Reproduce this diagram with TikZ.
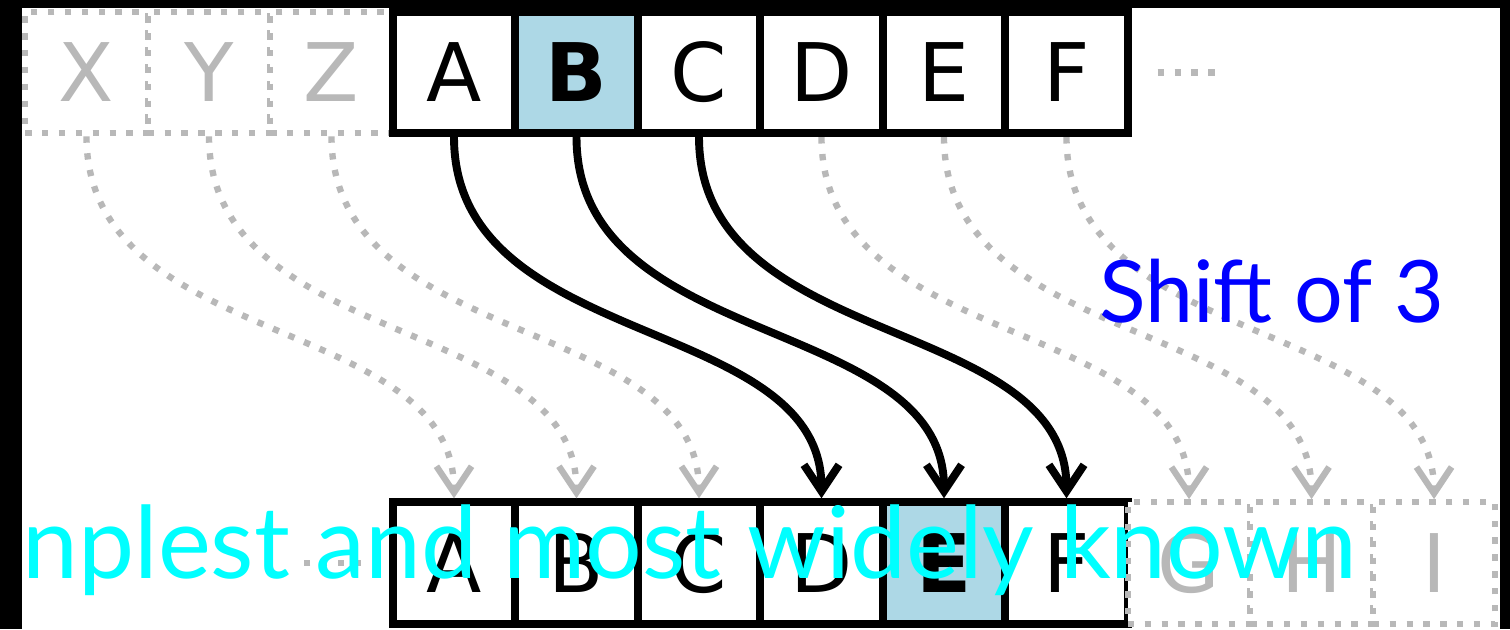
\documentclass[tikz,border=0pt]{standalone}
\usepackage{fontspec}
\usetikzlibrary{arrows.meta}
\newfontfamily\cellfont{DejaVu Sans}
\newfontfamily\notefont{Lato}
\definecolor{faint}{HTML}{B8B8B8}
\definecolor{cellblue}{HTML}{ADD8E6}
\definecolor{shiftblue}{HTML}{0000FF}
\definecolor{bannercyan}{HTML}{00FFFF}
\tikzset{cell/.style={draw=black,fill=white,line width=4.5pt,minimum width=2.45cm,minimum height=2.43cm,inner sep=0pt,font=\cellfont\fontsize{46}{46}\selectfont},hicell/.style={cell,fill=cellblue,font=\cellfont\bfseries\fontsize{46}{46}\selectfont},ghost/.style={cell,draw=faint,text=faint,line width=3.6pt,dash pattern=on 3.6pt off 6pt},shiftarr/.style={-{Straight Barb[length=15pt,width=20pt]},draw=black,line width=4.5pt},ghostarr/.style={shiftarr,draw=faint,line width=3.6pt,dash pattern=on 3.6pt off 6pt},ghostdots/.style={draw=faint,line width=3.6pt,dash pattern=on 3.6pt off 6pt},shiftlabel/.style={font=\notefont\fontsize{49}{58}\selectfont,text=shiftblue,inner sep=0pt},banner/.style={font=\notefont\fontsize{57}{66}\selectfont,text=bannercyan,inner sep=0pt}}
\begin{document}
\begin{tikzpicture}[x=0.02cm,y=0.02cm]
\useasboundingbox (0,0) rectangle (1510,629);
\fill[black] (0,0) rectangle (1510,629);
\fill[white] (22,0) rectangle (1500,621);
% plaintext row
\node[ghost] (plainX) at (86.5,556.5) {X};
\node[ghost] (plainY) at (209,556.5) {Y};
\node[ghost] (plainZ) at (331.5,556.5) {Z};
\node[cell] (plainA) at (454,556.5) {A};
\node[hicell] (plainB) at (576.5,556.5) {B};
\node[cell] (plainC) at (699,556.5) {C};
\node[cell] (plainD) at (821.5,556.5) {D};
\node[cell] (plainE) at (944,556.5) {E};
\node[cell] (plainF) at (1066.5,556.5) {F};
\draw[ghostdots] (plainF.east) ++(26,0) -- ++(62,0);
% ciphertext row
\node[cell] (cipherA) at (454,66) {A};
\node[cell] (cipherB) at (576.5,66) {B};
\node[cell] (cipherC) at (699,66) {C};
\node[cell] (cipherD) at (821.5,66) {D};
\node[hicell] (cipherE) at (944,66) {E};
\node[cell] (cipherF) at (1066.5,66) {F};
\node[ghost] (cipherG) at (1189,66) {G};
\node[ghost] (cipherH) at (1311.5,66) {H};
\node[ghost] (cipherI) at (1434,66) {I};
\draw[ghostdots] (cipherA.west) ++(-28,0) -- ++(-62,0);
% shifts
\draw[ghostarr] (plainX.south) .. controls +(0,-215) and +(0,185) .. (cipherA.north);
\draw[ghostarr] (plainY.south) .. controls +(0,-215) and +(0,185) .. (cipherB.north);
\draw[ghostarr] (plainZ.south) .. controls +(0,-215) and +(0,185) .. (cipherC.north);
\draw[ghostarr] (plainD.south) .. controls +(0,-215) and +(0,185) .. (cipherG.north);
\draw[ghostarr] (plainE.south) .. controls +(0,-215) and +(0,185) .. (cipherH.north);
\draw[ghostarr] (plainF.south) .. controls +(0,-215) and +(0,185) .. (cipherI.north);
\draw[shiftarr] (plainA.south) .. controls +(0,-215) and +(0,185) .. (cipherD.north);
\draw[shiftarr] (plainB.south) .. controls +(0,-215) and +(0,185) .. (cipherE.north);
\draw[shiftarr] (plainC.south) .. controls +(0,-215) and +(0,185) .. (cipherF.north);
\node[shiftlabel,anchor=base east] (shiftnote) at (1445,306) {Shift of 3};
\node[banner,anchor=base west] (bannertext) at (22,51) {nplest and most widely known};
\end{tikzpicture}
\end{document}
